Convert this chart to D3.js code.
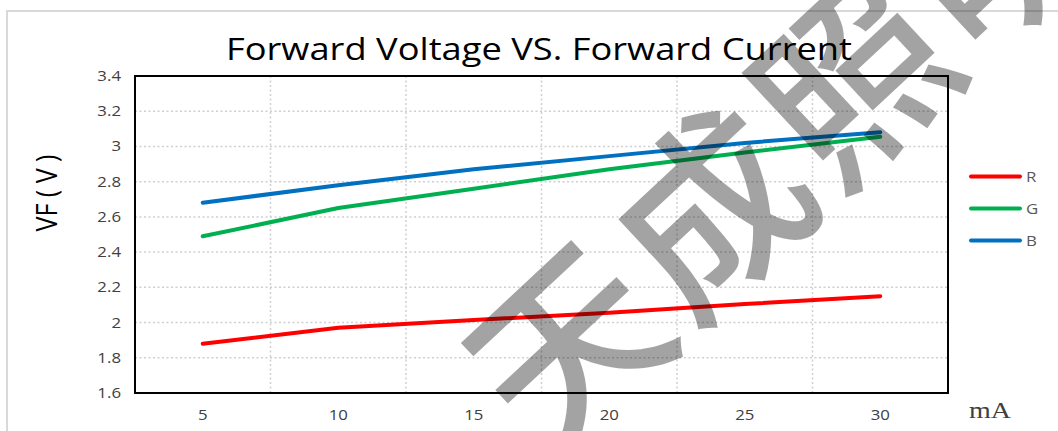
<!DOCTYPE html>
<html>
<head>
<meta charset="utf-8">
<script src="https://cdn.jsdelivr.net/npm/d3@7"></script>
<style>
  html, body { margin: 0; padding: 0; background: #fff; }
  svg { display: block; }
</style>
</head>
<body>
<svg id="chart" width="1058" height="431"></svg>
<script>
// ---- data ----
const categories = ["5", "10", "15", "20", "25", "30"];
const seriesNames = ["R", "G", "B"];
const seriesColors = ["#ff0000", "#00b050", "#0070c0"];
const valuesR = [1.88, 1.97, 2.015, 2.055, 2.105, 2.15];
const valuesG = [2.49, 2.65, 2.76, 2.87, 2.965, 3.055];
const valuesB = [2.68, 2.78, 2.87, 2.945, 3.02, 3.08];
const yTicks = [1.6, 1.8, 2, 2.2, 2.4, 2.6, 2.8, 3, 3.2, 3.4];
const titleText = "Forward Voltage VS. Forward Current";
const yTitleText = "VF ( V )";
const xUnitText = "mA";
const watermarkChars = ["天", "成", "照", "明"];

const seriesValues = [valuesR, valuesG, valuesB];

// ---- layout ----
const SANS = "'Open Sans', 'DejaVu Sans', sans-serif";
const svg = d3.select("#chart");
const plot = { left: 135, top: 76, right: 948, bottom: 393 };
const STRETCH = 1.2;

function stretch(sel, factor) {
  sel.each(function () {
    const len = this.getComputedTextLength();
    d3.select(this).attr("textLength", len * factor).attr("lengthAdjust", "spacingAndGlyphs");
  });
}

// outer frame
svg.append("rect")
  .attr("x", 7).attr("y", 11).attr("width", 1200).attr("height", 600)
  .attr("fill", "none").attr("stroke", "#d9d9d9").attr("stroke-width", 2);

const x = d3.scaleBand().domain(categories).range([plot.left, plot.right]);
const y = d3.scaleLinear().domain([yTicks[0], yTicks[yTicks.length - 1]]).range([plot.bottom, plot.top]);
const cx = d => x(d) + x.bandwidth() / 2;

// gridlines
const grid = svg.append("g").attr("stroke", "#cfcfcf").attr("stroke-width", 1.5)
  .attr("stroke-dasharray", "2,2.5");
grid.selectAll("line.h").data(yTicks.slice(1, -1)).join("line")
  .attr("x1", plot.left).attr("x2", plot.right)
  .attr("y1", d => y(d)).attr("y2", d => y(d));
grid.selectAll("line.v").data(categories.slice(1)).join("line")
  .attr("x1", d => x(d)).attr("x2", d => x(d))
  .attr("y1", plot.top).attr("y2", plot.bottom);

// y axis
const yAxis = svg.append("g").attr("transform", `translate(${plot.left},0)`)
  .call(d3.axisLeft(y).tickValues(yTicks).tickSize(0).tickPadding(14).tickFormat(d => String(d)));
yAxis.select(".domain").remove();
yAxis.selectAll("text").attr("font-size", 14).attr("fill", "#404040")
  .style("font-family", SANS).call(stretch, STRETCH);

// x axis
const xAxis = svg.append("g").attr("transform", `translate(0,${plot.bottom})`)
  .call(d3.axisBottom(x).tickSize(0).tickPadding(17));
xAxis.select(".domain").remove();
xAxis.selectAll("text").attr("font-size", 14).attr("fill", "#404040")
  .style("font-family", SANS).call(stretch, STRETCH);

// plot border
svg.append("rect")
  .attr("x", plot.left).attr("y", plot.top)
  .attr("width", plot.right - plot.left).attr("height", plot.bottom - plot.top)
  .attr("fill", "none").attr("stroke", "#000").attr("stroke-width", 2);

// lines
const line = d3.line().x((d, i) => cx(categories[i])).y(d => y(d));
svg.append("g").selectAll("path").data(seriesValues).join("path")
  .attr("d", d => line(d))
  .attr("fill", "none")
  .attr("stroke", (d, i) => seriesColors[i])
  .attr("stroke-width", 4)
  .attr("stroke-linecap", "round")
  .attr("stroke-linejoin", "round");

// title
svg.append("text").attr("x", 539).attr("y", 60).attr("text-anchor", "middle")
  .style("font-family", SANS)
  .attr("font-size", 31).attr("fill", "#000").text(titleText)
  .attr("textLength", 626).attr("lengthAdjust", "spacingAndGlyphs");

// y title
svg.append("text").attr("transform", "translate(57,193) rotate(-90)")
  .style("font-family", SANS)
  .attr("text-anchor", "middle").attr("font-size", 29).attr("fill", "#000")
  .text(yTitleText).attr("textLength", 77).attr("lengthAdjust", "spacingAndGlyphs");

// x unit
svg.append("text").attr("x", 969).attr("y", 418)
  .style("font-family", "'Liberation Serif', 'Times New Roman', serif")
  .attr("font-size", 24).attr("fill", "#404040").text(xUnitText)
  .attr("textLength", 42).attr("lengthAdjust", "spacingAndGlyphs");

// legend
const legend = svg.append("g").selectAll("g").data(seriesNames).join("g")
  .attr("transform", (d, i) => `translate(971,${176.5 + i * 32})`);
legend.append("line").attr("x1", 0).attr("x2", 49).attr("y1", 0).attr("y2", 0)
  .attr("stroke", (d, i) => seriesColors[i]).attr("stroke-width", 4).attr("stroke-linecap", "round");
legend.append("text").attr("x", 55).attr("y", 0).attr("dy", "0.36em")
  .style("font-family", SANS)
  .attr("font-size", 14).attr("fill", "#595959").text(d => d).call(stretch, STRETCH);

// watermark
const fs = 190, ang = -43, rad = ang * Math.PI / 180, step = 196;
const c0 = [560, 338];
svg.append("g").selectAll("text").data(watermarkChars).join("text")
  .attr("transform", (d, i) =>
    `translate(${c0[0] + i * step * Math.cos(rad)},${c0[1] + i * step * Math.sin(rad)}) rotate(${ang})`)
  .attr("text-anchor", "middle")
  .attr("dominant-baseline", "central")
  .style("font-family", "'Noto Sans CJK SC', sans-serif")
  .attr("font-weight", 500)
  .attr("font-size", fs)
  .attr("fill", "#000").attr("fill-opacity", 0.36)
  .text(d => d);
</script>
</body>
</html>
